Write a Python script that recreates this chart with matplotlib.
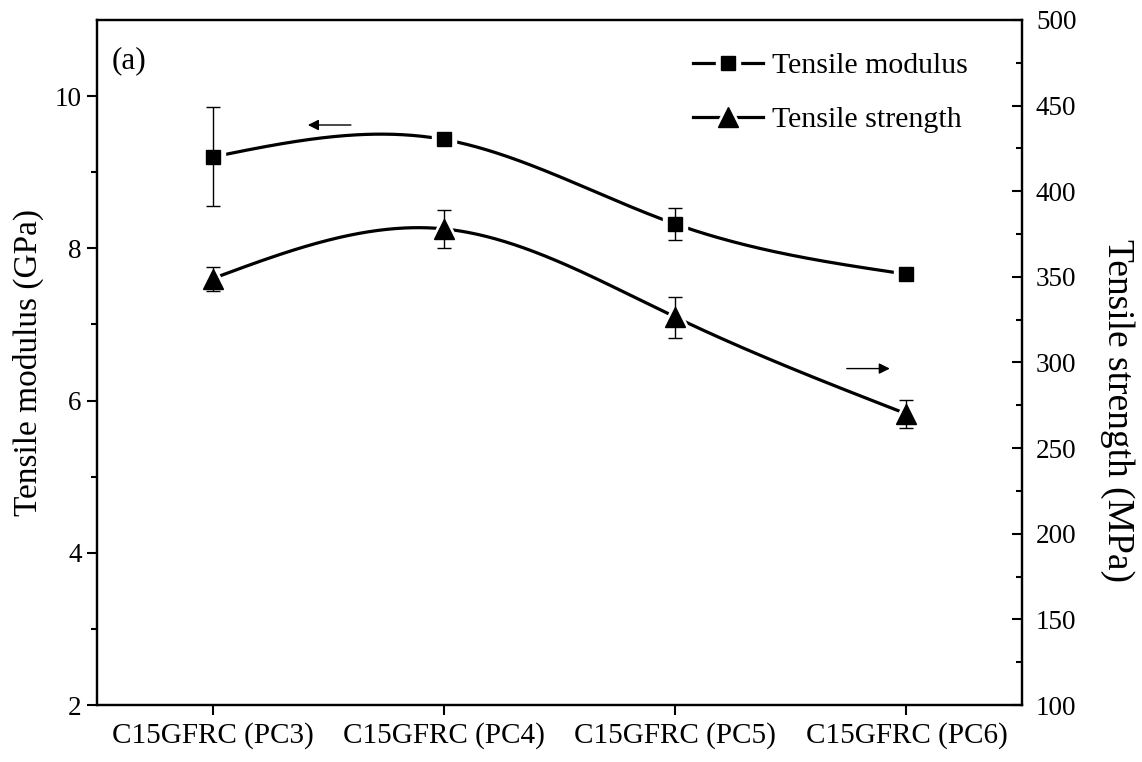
import numpy as np
import matplotlib.pyplot as plt
from matplotlib.lines import Line2D

plt.rcParams['font.family'] = ['Liberation Serif', 'DejaVu Serif']

# sample names and measured values
samples = ['C15GFRC (PC3)', 'C15GFRC (PC4)', 'C15GFRC (PC5)', 'C15GFRC (PC6)']
modulus = [9.20, 9.43, 8.32, 7.66]        # GPa
modulus_err = [0.65, 0.06, 0.21, 0.04]
strength = [349, 378, 326.5, 270]         # MPa
strength_err = [7, 11, 12, 8]


def natural_spline(x, y, n=300):
    # natural cubic spline through the points, used for the smooth connecting line
    x = np.asarray(x, float)
    y = np.asarray(y, float)
    k = len(x)
    h = np.diff(x)
    A = np.zeros((k, k))
    b = np.zeros(k)
    A[0, 0] = A[-1, -1] = 1
    for i in range(1, k - 1):
        A[i, i - 1] = h[i - 1]
        A[i, i] = 2 * (h[i - 1] + h[i])
        A[i, i + 1] = h[i]
        b[i] = 6 * ((y[i + 1] - y[i]) / h[i] - (y[i] - y[i - 1]) / h[i - 1])
    M = np.linalg.solve(A, b)
    xs = np.linspace(x[0], x[-1], n)
    idx = np.clip(np.searchsorted(x, xs) - 1, 0, k - 2)
    x0, x1 = x[idx], x[idx + 1]
    hh = x1 - x0
    t0, t1 = x1 - xs, xs - x0
    ys = (M[idx] * t0 ** 3 + M[idx + 1] * t1 ** 3) / (6 * hh) \
        + (y[idx] / hh - M[idx] * hh / 6) * t0 \
        + (y[idx + 1] / hh - M[idx + 1] * hh / 6) * t1
    return xs, ys


fig = plt.figure(figsize=(11.42, 7.62), dpi=100)
ax = fig.add_axes([0.0849, 0.0748, 0.8101, 0.899])
ax2 = ax.twinx()

x = np.arange(len(samples))
LW = 2.3
SQ, TRI = 10.5, 14

# left axis: modulus
xs, ys = natural_spline(x, modulus)
ax.plot(xs, ys, color='black', lw=LW, zorder=1, solid_capstyle='round')
ax.plot(x, modulus, ls='none', marker='s', ms=SQ + 7, color='white', zorder=2)
ax.errorbar(x, modulus, yerr=modulus_err, fmt='none', ecolor='black',
            elinewidth=1.0, capsize=5, capthick=1.0, zorder=3)
ax.plot(x, modulus, ls='none', marker='s', ms=SQ, color='black', zorder=4)

# right axis: strength
xs, ys = natural_spline(x, strength)
ax2.plot(xs, ys, color='black', lw=LW, zorder=1, solid_capstyle='round')
ax2.plot(x, strength, ls='none', marker='^', ms=TRI + 9, color='white', zorder=2)
ax2.errorbar(x, strength, yerr=strength_err, fmt='none', ecolor='black',
             elinewidth=1.0, capsize=5, capthick=1.0, zorder=3)
ax2.plot(x, strength, ls='none', marker='^', ms=TRI, color='black', zorder=4)

ax.set_xlim(-0.5, 3.5)
ax.set_ylim(2, 11)
ax2.set_ylim(100, 500)

ax.set_xticks(x)
ax.set_xticklabels(samples)
ax.set_yticks([2, 4, 6, 8, 10])
ax.set_yticks([3, 5, 7, 9], minor=True)
ax2.set_yticks(np.arange(100, 501, 50))
ax2.set_yticks(np.arange(125, 500, 50), minor=True)

ax.tick_params(axis='x', direction='out', length=7, width=1.5, labelsize=21, pad=5)
ax.tick_params(axis='y', which='major', direction='out', length=7, width=1.5, labelsize=19.5, pad=4)
ax.tick_params(axis='y', which='minor', direction='out', length=4, width=1.5)
ax2.tick_params(axis='y', which='major', direction='in', length=7, width=1.5, labelsize=19.5, pad=10)
ax2.tick_params(axis='y', which='minor', direction='in', length=4, width=1.5)

for a in (ax, ax2):
    for s in a.spines.values():
        s.set_linewidth(1.6)

ax.set_ylabel('Tensile modulus (GPa)', fontsize=24, labelpad=8)
ax2.set_ylabel('Tensile strength (MPa)', fontsize=27, rotation=-90, va='center')
ax2.yaxis.set_label_coords(1.103, 0.43)

ax.text(0.016, 0.962, '(a)', transform=ax.transAxes, fontsize=22.5, va='top')

# arrows pointing to the axis each curve belongs to
arrow = dict(arrowstyle='-|>', color='black', lw=1.0, mutation_scale=16)
ax.annotate('', xy=(0.40, 9.62), xytext=(0.61, 9.62), arrowprops=arrow)
ax.annotate('', xy=(2.94, 6.42), xytext=(2.73, 6.42), arrowprops=arrow)

# legend: line with a small gap around the marker
line_h = Line2D([], [], color='black', lw=LW)
sq_h = (line_h,
        Line2D([], [], ls='none', marker='s', ms=SQ + 7, color='white'),
        Line2D([], [], ls='none', marker='s', ms=SQ, color='black'))
tri_h = (line_h,
         Line2D([], [], ls='none', marker='^', ms=TRI + 9, color='white'),
         Line2D([], [], ls='none', marker='^', ms=TRI, color='black'))
ax.legend([sq_h, tri_h], ['Tensile modulus', 'Tensile strength'], loc='upper left',
          bbox_to_anchor=(0.644, 0.953), frameon=False, fontsize=21.5,
          handlelength=2.35, handletextpad=0.3, labelspacing=0.92,
          borderpad=0, borderaxespad=0)

fig.savefig('out.png', dpi=100)
